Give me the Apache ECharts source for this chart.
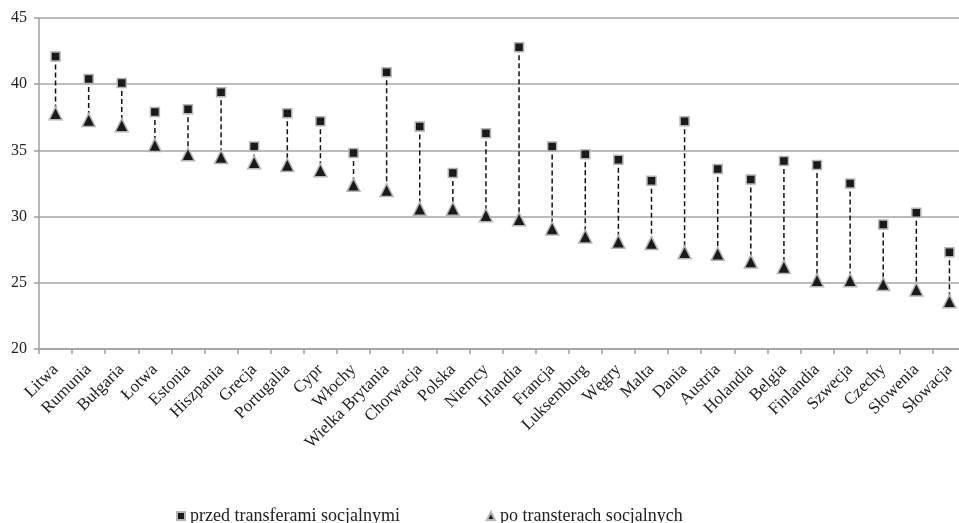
<!DOCTYPE html>
<html>
<head>
<meta charset="utf-8">
<script src="https://cdn.jsdelivr.net/npm/echarts@6/dist/echarts.min.js"></script>
<style>html,body{margin:0;padding:0;background:#fff;overflow:hidden}#c{width:966px;height:523px}</style>
</head>
<body>
<div id="c"></div>
<script>
const countries = ['Litwa','Rumunia','Bułgaria','Łotwa','Estonia','Hiszpania','Grecja','Portugalia','Cypr','Włochy','Wielka Brytania','Chorwacja','Polska','Niemcy','Irlandia','Francja','Luksemburg','Węgry','Malta','Dania','Austria','Holandia','Belgia','Finlandia','Szwecja','Czechy','Słowenia','Słowacja'];
const before = [42.1,40.4,40.1,37.9,38.1,39.4,35.3,37.8,37.2,34.8,40.9,36.8,33.3,36.3,42.8,35.3,34.7,34.3,32.7,37.2,33.6,32.8,34.2,33.9,32.5,29.4,30.3,27.3];
const after = [37.8,37.3,36.9,35.4,34.7,34.5,34.1,33.9,33.5,32.4,32.0,30.6,30.6,30.1,29.8,29.1,28.5,28.1,28.0,27.3,27.2,26.6,26.2,25.2,25.2,24.9,24.5,23.6];
const nameBefore = 'przed transferami socjalnymi';
const nameAfter = 'po transterach socjalnych';
const yTicks = {min: 20, max: 45, interval: 5};

const font = '"Liberation Serif", "Times New Roman", serif';
const chart = echarts.init(document.getElementById('c'), null, {renderer: 'canvas'});
chart.setOption({
  animation: false,
  backgroundColor: '#fff',
  textStyle: {fontFamily: font},
  grid: {left: 39, top: 18, bottom: 174, right: 0, containLabel: false},
  legend: {
    data: [nameBefore, nameAfter],
    left: 176, top: 507, padding: 0,
    itemWidth: 8, itemHeight: 8, itemGap: 86,
    textStyle: {fontFamily: font, fontSize: 18, color: '#222'}
  },
  xAxis: {
    type: 'category', data: countries, boundaryGap: true,
    axisLine: {lineStyle: {color: '#a0a0a0', width: 1.5}},
    axisTick: {show: true, interval: 0, length: 5, lineStyle: {color: '#a0a0a0', width: 1.5}},
    axisLabel: {interval: 0, rotate: 45, margin: 18, fontFamily: font, fontSize: 17, color: '#222'},
    splitLine: {show: false}
  },
  yAxis: {
    type: 'value', min: yTicks.min, max: yTicks.max, interval: yTicks.interval,
    axisLine: {show: true, lineStyle: {color: '#a0a0a0', width: 1.5}},
    axisTick: {show: true, length: 5, lineStyle: {color: '#a0a0a0', width: 1.5}},
    axisLabel: {margin: 12, fontFamily: font, fontSize: 16, color: '#222'},
    splitLine: {show: true, lineStyle: {color: '#a6a6a6', width: 1.5}}
  },
  series: [
    {
      type: 'custom', name: 'conn', z: 1, silent: true,
      data: countries.map((c, i) => [i, before[i], after[i]]),
      renderItem: function (params, api) {
        const p1 = api.coord([api.value(0), api.value(1)]);
        const p2 = api.coord([api.value(0), api.value(2)]);
        return {type: 'line', shape: {x1: p1[0], y1: p1[1], x2: p2[0], y2: p2[1]},
          style: {stroke: '#111', lineWidth: 1.5, lineDash: [5, 3]}};
      }
    },
    {
      type: 'scatter', name: nameBefore, z: 3, symbol: 'rect', symbolSize: 9,
      itemStyle: {color: '#1a1a1a', borderColor: '#b5b5b5', borderWidth: 1.5, opacity: 1},
      data: before
    },
    {
      type: 'scatter', name: nameAfter, z: 3, symbol: 'triangle', symbolSize: 13,
      itemStyle: {color: '#1a1a1a', borderColor: '#b5b5b5', borderWidth: 1.5, opacity: 1},
      data: after
    }
  ]
});
</script>
</body>
</html>
